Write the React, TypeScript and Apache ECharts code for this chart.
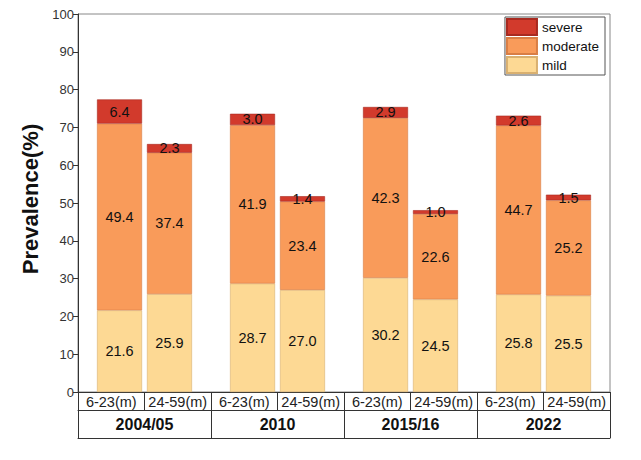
import React, { useEffect, useRef } from "react";
import * as echarts from "echarts";

const groups = ["2004/05", "2010", "2015/16", "2022"];
const ages = ["6-23(m)", "24-59(m)"];
const mildYoung = [21.6, 28.7, 30.2, 25.8];
const moderateYoung = [49.4, 41.9, 42.3, 44.7];
const severeYoung = [6.4, 3.0, 2.9, 2.6];
const mildOld = [25.9, 27.0, 24.5, 25.5];
const moderateOld = [37.4, 23.4, 22.6, 25.2];
const severeOld = [2.3, 1.4, 1.0, 1.5];
const yTicks = { min: 0, max: 100, interval: 10 };

const COLORS = {
  mild: "#FDD994",
  moderate: "#F99B5A",
  severe: "#D23A2C",
};
const BORDERS = {
  mild: "#D9B070",
  moderate: "#D97E45",
  severe: "#A82A20",
};

const FONT = "Liberation Sans, Arial, sans-serif";

export default function App() {
  const ref = useRef<HTMLDivElement>(null);
  useEffect(() => {
    if (!ref.current) return;
    const chart = echarts.init(ref.current, null, { renderer: "svg" });
    const mkSeries = (name: string, data: number[], stack: string, key: "mild" | "moderate" | "severe") => ({
      name,
      type: "bar",
      stack,
      xAxisIndex: 0,
      yAxisIndex: 0,
      barWidth: 45,
      barGap: "11%",
      data,
      itemStyle: { color: COLORS[key], borderColor: BORDERS[key], borderWidth: 0.6 },
      label: {
        show: true,
        position: "inside",
        color: "#111",
        fontSize: 14.5,
        fontFamily: FONT,
        formatter: (p: any) => Number(p.value).toFixed(1),
      },
    });
    const subLabels = groups.flatMap(() => ages);
    chart.setOption({
      animation: false,
      textStyle: { fontFamily: FONT },
      grid: {
        left: 78,
        right: 31,
        top: 14,
        bottom: 68,
        show: true,
        borderColor: "#888",
        borderWidth: 1,
      },
      legend: {
        data: ["severe", "moderate", "mild"],
        orient: "vertical",
        right: 36,
        top: 17,
        itemWidth: 30,
        itemHeight: 16,
        itemGap: 1,
        icon: "rect",
        borderColor: "#555",
        borderWidth: 1,
        padding: [1, 6, 1, 1],
        selectedMode: false,
        textStyle: { fontSize: 13.5, color: "#111", fontFamily: FONT },
      },
      xAxis: [
        {
          type: "category",
          data: groups,
          gridIndex: 0,
          position: "bottom",
          show: false,
        },
        {
          type: "category",
          data: subLabels,
          gridIndex: 0,
          position: "bottom",
          offset: 0,
          axisLine: { show: true, lineStyle: { color: "#333", width: 1 } },
          axisTick: { show: true, length: 18, interval: 0, alignWithLabel: false, lineStyle: { color: "#333" } },
          axisLabel: { interval: 0, margin: 2, fontSize: 14.5, color: "#222", fontFamily: FONT },
          splitLine: { show: false },
        },
        {
          type: "category",
          data: groups,
          gridIndex: 0,
          position: "bottom",
          offset: 18,
          axisLine: { show: true, lineStyle: { color: "#333", width: 1 } },
          axisTick: { show: true, length: 28, interval: 0, alignWithLabel: false, lineStyle: { color: "#333" } },
          axisLabel: { interval: 0, margin: 6, fontSize: 16, fontWeight: "bold", color: "#111", fontFamily: FONT },
          splitLine: { show: false },
        },
        {
          type: "category",
          data: groups,
          gridIndex: 0,
          position: "bottom",
          offset: 46,
          axisLine: { show: true, lineStyle: { color: "#333", width: 1 } },
          axisTick: { show: false },
          axisLabel: { show: false },
          splitLine: { show: false },
        },
      ],
      yAxis: {
        type: "value",
        min: yTicks.min,
        max: yTicks.max,
        interval: yTicks.interval,
        name: "Prevalence(%)",
        nameLocation: "middle",
        nameGap: 34,
        nameTextStyle: { fontSize: 22, fontWeight: "bold", color: "#111", fontFamily: FONT, padding: [0, 0, 0, 8] },
        axisLine: { show: true, lineStyle: { color: "#333" } },
        axisTick: { show: true, length: 5, lineStyle: { color: "#333" } },
        axisLabel: { fontSize: 13, color: "#333", margin: 4, fontFamily: FONT },
        splitLine: { show: false },
      },
      series: [
        mkSeries("mild", mildYoung, "young", "mild"),
        mkSeries("moderate", moderateYoung, "young", "moderate"),
        mkSeries("severe", severeYoung, "young", "severe"),
        mkSeries("mild", mildOld, "old", "mild"),
        mkSeries("moderate", moderateOld, "old", "moderate"),
        mkSeries("severe", severeOld, "old", "severe"),
      ],
    });
    return () => chart.dispose();
  }, []);
  return (
    <div
      ref={ref}
      style={{ position: "fixed", left: 0, top: 0, width: 641, height: 460, background: "#fff" }}
    />
  );
}
